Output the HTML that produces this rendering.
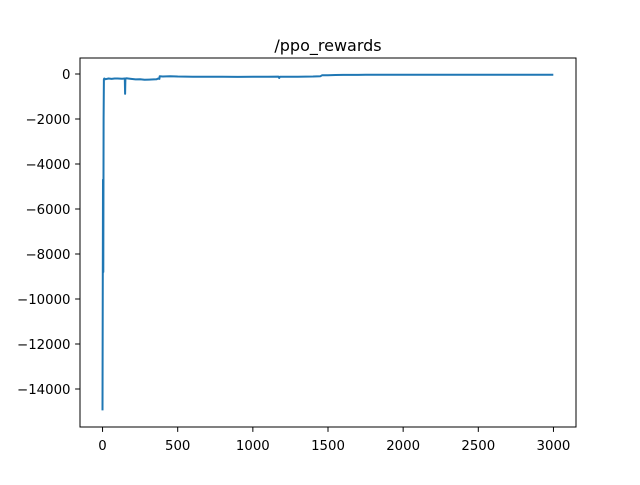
<!DOCTYPE html>
<html><head><meta charset="utf-8"><style>
body{margin:0;background:#fff;}
svg text{font-family:"DejaVu Sans","Liberation Sans",sans-serif;}
</style></head><body>
<svg id="chart" width="640" height="480"></svg>
<script>
const xs=[0,3,5,7,9,12,20,40,60,80,100,130,148,150,152,160,190,220,250,280,310,340,360,370,378,380,400,450,500,600,700,800,900,1000,1100,1170,1175,1180,1250,1300,1400,1450,1460,1500,1550,1600,1700,1750,2000,2500,2999];
const ys=[-14950,-4700,-8800,-2000,-230,-200,-230,-200,-220,-200,-200,-210,-200,-880,-200,-190,-220,-240,-230,-260,-250,-240,-230,-200,-220,-100,-110,-100,-110,-120,-120,-125,-130,-120,-125,-115,-180,-120,-120,-120,-110,-100,-60,-55,-45,-40,-40,-30,-30,-30,-30];
const xticks=[0,500,1000,1500,2000,2500,3000];
const yticks=[0,-2000,-4000,-6000,-8000,-10000,-12000,-14000];
const L=80,R=576,T=58,B=427;
const xmin=-150,xmax=3150,ymin=-15689,ymax=711;
const sx=v=>L+(v-xmin)/(xmax-xmin)*(R-L);
const sy=v=>B-(v-ymin)/(ymax-ymin)*(B-T);
const svg=document.getElementById('chart');
const NS='http://www.w3.org/2000/svg';
function mk(t,a){const e=document.createElementNS(NS,t);for(const k in a)e.setAttribute(k,a[k]);svg.appendChild(e);return e;}
let d=xs.map((x,i)=>(i?'L':'M')+sx(x).toFixed(1)+','+sy(ys[i]).toFixed(1)).join('');
const line=mk('path',{d:d,fill:'none',stroke:'#1f77b4','stroke-width':2,'stroke-linejoin':'round'});


const frame=mk('rect',{x:L,y:T,width:R-L,height:B-T,fill:'none',stroke:'#000','stroke-width':1});


xticks.forEach(v=>{const x=sx(v);mk('line',{x1:x,x2:x,y1:B,y2:B+4.9,stroke:'#000','stroke-width':1});
const t=mk('text',{x:x,y:B+23,'text-anchor':'middle','font-size':13.3});t.textContent=v;

});
yticks.forEach(v=>{const y=sy(v);mk('line',{x1:L-4.9,x2:L,y1:y,y2:y,stroke:'#000','stroke-width':1});
const t=mk('text',{x:L-9.5,y:y+5,'text-anchor':'end','font-size':13.3});t.textContent=v<0?'\u2212'+(-v):v;

});
const title=mk('text',{x:(L+R)/2,y:51,'text-anchor':'middle','font-size':16});title.textContent='/ppo_rewards';


</script>
</body></html>
